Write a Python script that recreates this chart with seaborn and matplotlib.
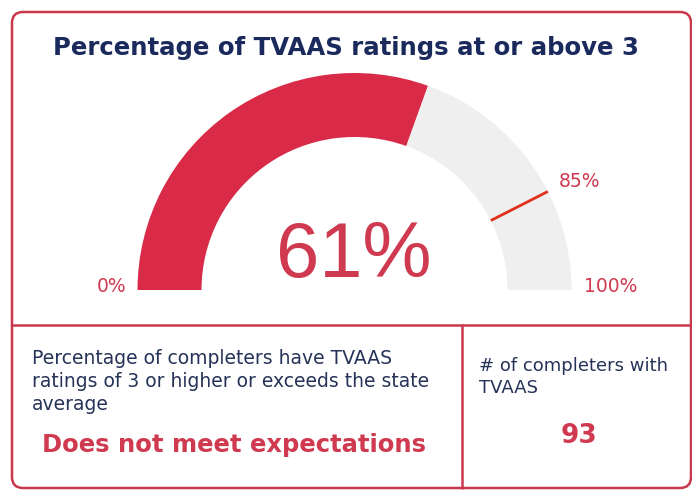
import seaborn as sns
import matplotlib.pyplot as plt
from matplotlib.patches import FancyBboxPatch
import numpy as np

# gauge values
valor = 61
meta = 85
escala = [0, 100]
titulo = 'Percentage of TVAAS ratings at or above 3'
texto_criterio = 'Percentage of completers have TVAAS\nratings of 3 or higher or exceeds the state\naverage'
resultado = 'Does not meet expectations'
texto_contagem = '# of completers with\nTVAAS'
contagem = 93

vermelho = '#d92b47'
cinza = '#efefef'
texto_vermelho = '#cf3a50'
azul = '#1b2a5c'
texto_azul = '#263358'
borda = '#c9384c'

sns.set_theme(style='white')
plt.rcParams['font.family'] = ['DejaVu Sans']

fig = plt.figure(figsize=(6.92, 4.92), dpi=100)
ax = fig.add_axes([0, 0, 1, 1])

# gauge drawn as half donut with pie
cx, cy, r_out, largura = 354.5, 202, 217, 64
total = escala[1] - escala[0]
ax.pie([valor, total - valor, total], colors=[vermelho, cinza, 'none'],
       startangle=180, counterclock=False, center=(cx, cy), radius=r_out,
       wedgeprops=dict(width=largura, linewidth=0), frame=True)

# target marker
ang = np.deg2rad(180 - 180 * (meta - escala[0]) / total)
rs = np.array([r_out - largura, r_out])
ax.plot(cx + rs * np.cos(ang), cy + rs * np.sin(ang), color='#e0301e', lw=2, solid_capstyle='butt')

ax.text(cx - 1, 215, f'{valor}%', ha='center', va='baseline', fontsize=56,
        color=texto_vermelho, family=['Liberation Sans'])
ax.text(112, 200, f'{escala[0]}%', ha='center', va='baseline', fontsize=13.5, color=texto_vermelho)
ax.text(611, 200, f'{escala[1]}%', ha='center', va='baseline', fontsize=13.5, color=texto_vermelho)
ax.text(580, 305, f'{meta}%', ha='center', va='baseline', fontsize=13.5, color=texto_vermelho)

ax.text(346, 437, titulo, ha='center', va='baseline', fontsize=17.6, fontweight='bold', color=azul)

# card borders
ax.add_patch(FancyBboxPatch((12, 4), 679, 476, boxstyle='round,pad=0,rounding_size=11',
                            fill=False, edgecolor=borda, lw=1.8))
ax.plot([12, 692], [167, 167], color=borda, lw=1.8)
ax.plot([462, 462], [4, 167], color=borda, lw=1.8)

ax.text(32, 82, texto_criterio, ha='left', va='baseline', fontsize=13.5, color=texto_azul,
        linespacing=1.27)
ax.text(233.5, 40, resultado, ha='center', va='baseline', fontsize=17.5, fontweight='bold',
        color=texto_vermelho)
ax.text(479, 99, texto_contagem, ha='left', va='baseline', fontsize=13, color=texto_azul,
        linespacing=1.3)
ax.text(578.5, 49, str(contagem), ha='center', va='baseline', fontsize=19, fontweight='bold',
        color=texto_vermelho)

ax.set_xlim(0, 692)
ax.set_ylim(0, 492)
ax.set_aspect('auto')
ax.axis('off')

plt.savefig('out.png', dpi=100)
